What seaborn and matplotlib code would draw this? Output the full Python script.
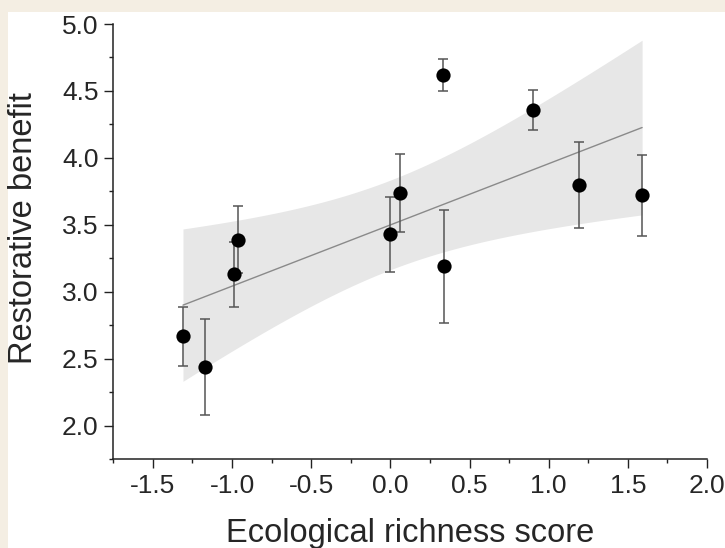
import matplotlib
matplotlib.use("Agg")
import matplotlib.pyplot as plt
from matplotlib.patches import Rectangle
import numpy as np
import pandas as pd
import seaborn as sns

# ============================================================
# Data
# ============================================================
richness = [-1.31, -1.17, -0.99, -0.96, 0.00, 0.06, 0.33, 0.34, 0.90, 1.19, 1.59]
benefit = [2.67, 2.44, 3.13, 3.39, 3.43, 3.74, 4.62, 3.19, 4.36, 3.80, 3.72]
benefit_err = [0.22, 0.36, 0.24, 0.25, 0.28, 0.29, 0.12, 0.42, 0.15, 0.32, 0.30]

x_ticks = [-1.5, -1.0, -0.5, 0.0, 0.5, 1.0, 1.5, 2.0]
y_ticks = [2.0, 2.5, 3.0, 3.5, 4.0, 4.5, 5.0]

df = pd.DataFrame({"richness": richness, "benefit": benefit, "err": benefit_err})

# ============================================================
# Style
# ============================================================
sns.set_style("ticks")
plt.rcParams["font.family"] = ["Liberation Sans", "DejaVu Sans"]

fig = plt.figure(figsize=(7.25, 5.48), dpi=100)
fig.patch.set_facecolor("#f4eee3")
fig.patches.append(Rectangle((8 / 725, 0), 1, (548 - 12) / 548,
                             transform=fig.transFigure, facecolor="white",
                             edgecolor="none", zorder=-10))
ax = fig.add_axes([0.1563, 0.1619, 0.8189, 0.7943])
ax.set_facecolor("white")

# 95% confidence band of the linear fit (t for 9 dof)
xv = df["richness"].to_numpy()
yv = df["benefit"].to_numpy()
slope, icpt = np.polyfit(xv, yv, 1)
resid = yv - (slope * xv + icpt)
n = len(xv)
s = np.sqrt((resid ** 2).sum() / (n - 2))
sxx = ((xv - xv.mean()) ** 2).sum()
grid = np.linspace(xv.min(), xv.max(), 200)
half = 2.262 * s * np.sqrt(1 / n + (grid - xv.mean()) ** 2 / sxx)
fit = slope * grid + icpt
ax.fill_between(grid, fit - half, fit + half, color="#e7e7e7", lw=0, zorder=1)

sns.regplot(data=df, x="richness", y="benefit", ci=None, scatter=False,
            truncate=True, color="#8a8a8a", line_kws={"lw": 1.0, "zorder": 2}, ax=ax)

ax.errorbar(df["richness"], df["benefit"], yerr=df["err"], fmt="none",
            ecolor="#555555", elinewidth=1.1, capsize=3.8, capthick=1.1, zorder=3)
sns.scatterplot(data=df, x="richness", y="benefit", color="black", s=105,
                edgecolor="black", linewidth=0, zorder=4, ax=ax)

ax.set_xlim(-1.75, 2.0)
ax.set_ylim(1.75, 5.0)
ax.set_xticks(x_ticks)
ax.set_yticks(y_ticks)
ax.set_xticks(np.arange(-1.75, 2.01, 0.25), minor=True)
ax.set_yticks(np.arange(1.75, 5.01, 0.25), minor=True)
ax.set_xticklabels([f"{t:.1f}" for t in x_ticks])
ax.set_yticklabels([f"{t:.1f}" for t in y_ticks])

ax.tick_params(which="major", direction="out", length=6.5, width=1.0, labelsize=19,
               color="#222222", pad=4)
ax.tick_params(which="minor", direction="out", length=3.2, width=1.0, color="#222222")
for side in ["top", "right"]:
    ax.spines[side].set_visible(False)
for side in ["left", "bottom"]:
    ax.spines[side].set_linewidth(1.1)
    ax.spines[side].set_color("#222222")

ax.set_xlabel("Ecological richness score", fontsize=23.5)
ax.set_ylabel("Restorative benefit", fontsize=23.5)
ax.xaxis.set_label_coords(0.5, -0.135)
ax.yaxis.set_label_coords(-0.125, 0.532)

plt.savefig("out.png", dpi=100, facecolor=fig.get_facecolor())
plt.close()
